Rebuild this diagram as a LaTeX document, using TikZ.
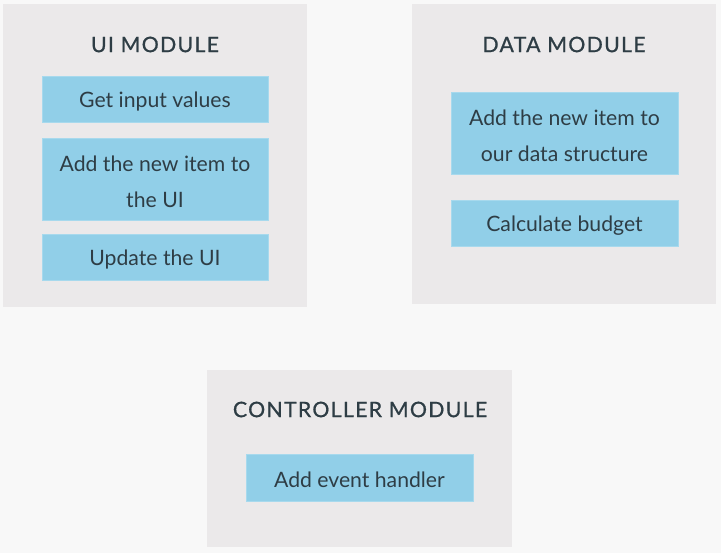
\documentclass[tikz,border=0pt]{standalone}
\usepackage{fontspec}
\setmainfont{Lato}
\newfontfamily\titlefont[LetterSpace=6,FakeBold=0.8]{Lato}
\definecolor{bgc}{HTML}{F8F8F8}
\definecolor{panelc}{HTML}{EBE9EA}
\definecolor{boxc}{HTML}{91CFE8}
\definecolor{txtc}{HTML}{2E3D45}
\begin{document}
\begin{tikzpicture}[x=1pt,y=-1pt,
  panel/.style={fill=panelc,draw=none},
  task/.style={fill=boxc,draw=boxc!80!white,line width=0.6pt,inner sep=0pt,
    label={[tasktext]center:#1}},
  tasktext/.style={text=txtc,inner sep=0pt,yshift=-2.5pt,
    font=\fontsize{21.2}{36}\selectfont,align=center},
  title/.style={text=txtc,font=\titlefont\fontsize{21.3}{24}\selectfont,inner sep=0pt}]
\fill[bgc] (0,0) rectangle (721,553);
\useasboundingbox (0,0) rectangle (721,553);
% panels
\fill[panel] (3,4) rectangle (307,307);
\fill[panel] (412,4) rectangle (716,304);
\fill[panel] (207,370) rectangle (512,547);
% titles
\node[title] (uit) at (155,44.5) {UI MODULE};
\node[title] (dat) at (564,44.5) {DATA MODULE};
\node[title] (ctt) at (360,409.5) {CONTROLLER MODULE};
% UI tasks
\node[task={Get input values},minimum width=226,minimum height=46] (u1) at (155,99) {};
\node[task={Add the new item to\\the UI},minimum width=226,minimum height=82] (u2) at (155,179) {};
\node[task={Update the UI},minimum width=226,minimum height=46] (u3) at (155,257) {};
% Data tasks
\node[task={Add the new item to\\our data structure},minimum width=227,minimum height=82] (d1) at (564.5,133) {};
\node[task={Calculate budget},minimum width=227,minimum height=46] (d2) at (564.5,223) {};
% Controller task
\node[task={Add event handler},minimum width=227,minimum height=47] (c1) at (359.5,477.5) {};
\end{tikzpicture}
\end{document}
